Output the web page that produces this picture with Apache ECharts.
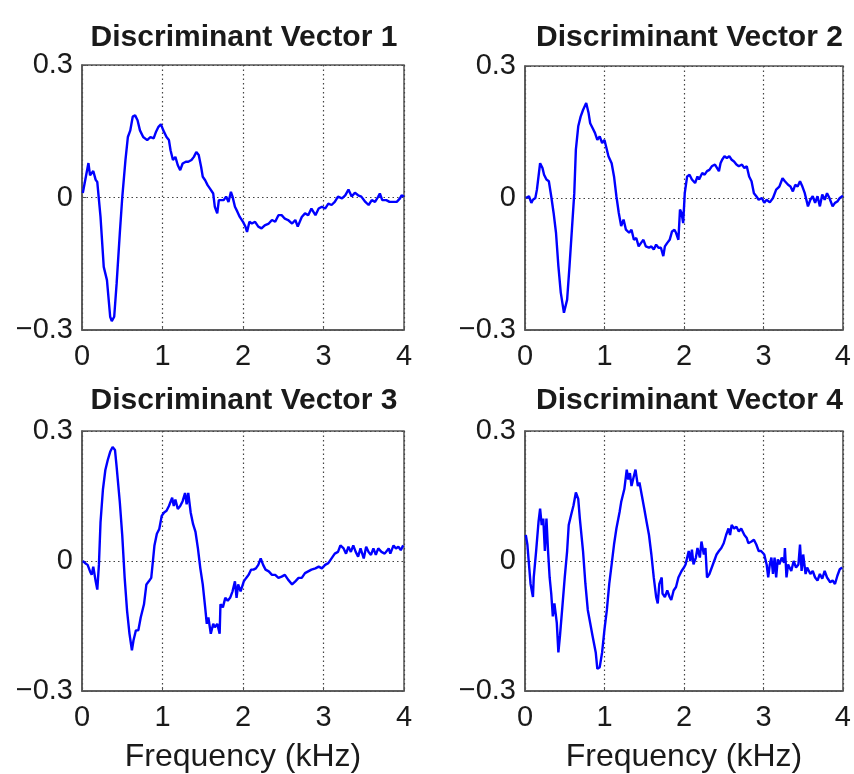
<!DOCTYPE html>
<html>
<head>
<meta charset="utf-8">
<script src="https://cdn.jsdelivr.net/npm/echarts@6/dist/echarts.min.js"></script>
<style>
  html, body {margin: 0; padding: 0; background: #fff;}
  #chart {width: 854px; height: 774px;}
</style>
</head>
<body>
<div id="chart"></div>
<script>
// frequency (kHz) and amplitude
var f1 = [0.01,0.08,0.10,0.14,0.17,0.19,0.23,0.27,0.31,0.35,0.37,0.40,0.43,0.47,0.50,0.54,0.57,0.60,0.63,0.66,0.69,0.72,0.76,0.81,0.85,0.89,0.92,0.95,0.98,1.01,1.05,1.08,1.10,1.13,1.16,1.19,1.22,1.25,1.29,1.32,1.36,1.39,1.42,1.45,1.48,1.50,1.53,1.56,1.59,1.63,1.65,1.68,1.70,1.72,1.76,1.79,1.82,1.85,1.87,1.90,1.93,1.96,2.00,2.03,2.05,2.08,2.11,2.15,2.19,2.23,2.27,2.32,2.36,2.40,2.44,2.48,2.52,2.56,2.61,2.65,2.68,2.70,2.73,2.77,2.81,2.85,2.90,2.94,2.98,3.02,3.06,3.10,3.14,3.18,3.23,3.27,3.31,3.35,3.39,3.43,3.47,3.52,3.56,3.60,3.64,3.68,3.70,3.73,3.78,3.82,3.87,3.91,3.95,3.97,4.00];
var v1 = [0.01,0.078,0.05,0.06,0.04,0.035,-0.044,-0.157,-0.187,-0.27,-0.28,-0.27,-0.195,-0.08,0,0.085,0.137,0.152,0.183,0.186,0.175,0.152,0.137,0.13,0.137,0.134,0.149,0.16,0.166,0.152,0.137,0.13,0.107,0.085,0.092,0.073,0.062,0.077,0.081,0.081,0.085,0.092,0.103,0.096,0.069,0.047,0.039,0.028,0.02,0.009,-0.021,-0.036,-0.006,-0.002,-0.006,0.002,-0.01,0.013,0.002,-0.021,-0.032,-0.044,-0.055,-0.066,-0.078,-0.055,-0.059,-0.055,-0.066,-0.07,-0.063,-0.059,-0.051,-0.055,-0.04,-0.04,-0.048,-0.051,-0.059,-0.051,-0.066,-0.07,-0.044,-0.036,-0.04,-0.025,-0.04,-0.025,-0.021,-0.025,-0.014,-0.017,-0.01,0.002,-0.002,0.005,0.018,0.002,0.011,0.005,0.002,-0.01,-0.017,-0.006,-0.01,0.002,0.009,-0.006,-0.006,-0.01,-0.01,-0.01,-0.002,0.005,0.002];

var f2 = [0.01,0.05,0.08,0.10,0.13,0.15,0.19,0.22,0.24,0.27,0.30,0.33,0.36,0.39,0.42,0.45,0.49,0.51,0.53,0.56,0.59,0.62,0.64,0.67,0.70,0.73,0.77,0.80,0.82,0.85,0.88,0.91,0.94,0.97,1.00,1.02,1.05,1.07,1.09,1.12,1.15,1.18,1.21,1.24,1.27,1.31,1.34,1.37,1.40,1.43,1.46,1.49,1.52,1.56,1.59,1.62,1.65,1.68,1.71,1.74,1.76,1.79,1.82,1.85,1.88,1.90,1.93,1.95,1.97,1.99,2.01,2.04,2.07,2.10,2.14,2.17,2.19,2.23,2.26,2.29,2.32,2.35,2.39,2.41,2.44,2.46,2.48,2.51,2.54,2.57,2.60,2.63,2.66,2.69,2.73,2.76,2.79,2.82,2.85,2.88,2.91,2.94,2.98,3.01,3.04,3.08,3.12,3.16,3.20,3.24,3.27,3.31,3.34,3.37,3.40,3.43,3.46,3.49,3.52,3.56,3.59,3.62,3.65,3.68,3.71,3.74,3.77,3.80,3.83,3.87,3.90,3.93,3.96,4.00];
var v2 = [0,0.004,-0.011,-0.004,0,0.019,0.079,0.068,0.053,0.042,0.038,0.004,-0.034,-0.079,-0.155,-0.215,-0.261,-0.265,-0.231,-0.155,-0.072,0.011,0.11,0.163,0.185,0.2,0.216,0.193,0.17,0.159,0.148,0.132,0.14,0.125,0.132,0.117,0.095,0.087,0.079,0.049,0.004,-0.034,-0.064,-0.049,-0.072,-0.079,-0.072,-0.095,-0.091,-0.11,-0.102,-0.095,-0.11,-0.113,-0.11,-0.117,-0.106,-0.113,-0.113,-0.132,-0.11,-0.102,-0.095,-0.076,-0.072,-0.079,-0.095,-0.026,-0.034,-0.057,0.011,0.049,0.053,0.042,0.034,0.049,0.042,0.057,0.053,0.061,0.064,0.072,0.076,0.079,0.061,0.079,0.087,0.095,0.091,0.095,0.087,0.083,0.076,0.072,0.076,0.068,0.072,0.049,0.038,0.011,0.004,-0.004,0,-0.011,-0.004,-0.01,0,0.019,0.026,0.045,0.038,0.03,0.026,0.015,0.03,0.026,0.038,0.026,0.011,-0.019,-0.004,0.004,-0.011,0.004,-0.019,0.008,-0.004,0.011,0,-0.019,-0.011,-0.008,0,0.005];

var f3 = [0.01,0.04,0.07,0.10,0.12,0.14,0.17,0.19,0.21,0.23,0.26,0.29,0.32,0.35,0.38,0.41,0.43,0.47,0.50,0.53,0.56,0.59,0.62,0.64,0.67,0.70,0.73,0.77,0.80,0.83,0.86,0.88,0.90,0.93,0.96,0.99,1.02,1.05,1.08,1.12,1.14,1.16,1.19,1.22,1.25,1.28,1.30,1.32,1.35,1.38,1.41,1.44,1.47,1.50,1.53,1.55,1.57,1.60,1.63,1.65,1.68,1.71,1.72,1.75,1.78,1.81,1.84,1.87,1.90,1.92,1.94,1.97,2.01,2.04,2.07,2.10,2.13,2.16,2.19,2.22,2.25,2.28,2.32,2.36,2.40,2.44,2.48,2.52,2.56,2.61,2.65,2.69,2.73,2.77,2.81,2.85,2.90,2.94,2.98,3.02,3.06,3.10,3.14,3.18,3.21,3.25,3.28,3.31,3.34,3.37,3.40,3.43,3.46,3.50,3.53,3.56,3.59,3.62,3.65,3.68,3.72,3.76,3.81,3.83,3.87,3.90,3.93,3.96,3.99];
var v3 = [0,-0.005,-0.009,-0.024,-0.032,-0.013,-0.047,-0.066,-0.009,0.089,0.165,0.21,0.233,0.252,0.263,0.256,0.218,0.135,0.059,-0.039,-0.115,-0.168,-0.206,-0.183,-0.16,-0.16,-0.13,-0.1,-0.054,-0.047,-0.039,-0.002,0.036,0.063,0.074,0.104,0.112,0.116,0.127,0.146,0.127,0.142,0.12,0.127,0.138,0.157,0.131,0.157,0.112,0.085,0.067,0.029,-0.017,-0.054,-0.107,-0.145,-0.13,-0.168,-0.145,-0.153,-0.145,-0.168,-0.1,-0.107,-0.085,-0.092,-0.085,-0.07,-0.047,-0.085,-0.054,-0.07,-0.047,-0.039,-0.032,-0.02,-0.02,-0.017,-0.009,0.006,-0.009,-0.02,-0.024,-0.032,-0.032,-0.039,-0.036,-0.032,-0.043,-0.054,-0.047,-0.039,-0.039,-0.028,-0.024,-0.02,-0.017,-0.013,-0.017,-0.009,-0.005,0.006,0.017,0.021,0.036,0.029,0.017,0.033,0.021,0.036,0.021,0.01,0.029,0.006,0.033,0.021,0.014,0.029,0.014,0.029,0.021,0.017,0.029,0.017,0.036,0.029,0.033,0.025,0.036];

var f4 = [0.01,0.03,0.05,0.07,0.10,0.11,0.14,0.17,0.19,0.21,0.23,0.25,0.27,0.29,0.31,0.33,0.35,0.37,0.40,0.42,0.44,0.47,0.50,0.53,0.55,0.58,0.61,0.64,0.67,0.69,0.73,0.76,0.79,0.82,0.85,0.89,0.91,0.94,0.97,1.00,1.03,1.06,1.09,1.12,1.15,1.19,1.21,1.25,1.28,1.30,1.32,1.34,1.37,1.39,1.42,1.44,1.47,1.50,1.53,1.56,1.59,1.62,1.65,1.67,1.69,1.72,1.73,1.76,1.79,1.82,1.84,1.87,1.90,1.93,1.97,2.00,2.02,2.06,2.08,2.10,2.12,2.15,2.17,2.20,2.22,2.25,2.27,2.29,2.32,2.35,2.38,2.41,2.44,2.47,2.50,2.53,2.56,2.58,2.60,2.63,2.66,2.69,2.72,2.76,2.79,2.81,2.85,2.88,2.91,2.94,2.97,3.01,3.04,3.06,3.08,3.10,3.12,3.14,3.16,3.18,3.20,3.23,3.26,3.27,3.29,3.31,3.35,3.38,3.41,3.44,3.46,3.48,3.50,3.53,3.55,3.59,3.62,3.65,3.68,3.71,3.74,3.77,3.80,3.84,3.87,3.90,3.93,3.96,3.99];
var v4 = [0.06,0.038,-0.008,-0.053,-0.083,-0.038,0.023,0.09,0.121,0.083,0.098,0.023,0.098,0.023,-0.038,-0.075,-0.128,-0.098,-0.143,-0.211,-0.173,-0.106,-0.038,0.023,0.083,0.106,0.128,0.158,0.143,0.098,0.023,-0.053,-0.113,-0.143,-0.173,-0.211,-0.249,-0.245,-0.211,-0.158,-0.113,-0.053,-0.008,0.038,0.075,0.113,0.136,0.166,0.211,0.188,0.203,0.173,0.196,0.211,0.173,0.181,0.151,0.121,0.09,0.06,0.015,-0.038,-0.083,-0.098,-0.053,-0.038,-0.075,-0.083,-0.068,-0.083,-0.09,-0.068,-0.06,-0.038,-0.023,-0.015,-0.008,0.023,0,0.026,-0.008,0.008,0.03,0.008,0.045,0.015,0.03,-0.038,-0.03,-0.015,0,0.015,0.023,0.03,0.041,0.06,0.075,0.06,0.083,0.075,0.079,0.068,0.075,0.06,0.053,0.041,0.045,0.049,0.038,0.023,0.023,0.015,-0.008,-0.038,-0.008,0.008,-0.03,0.008,-0.038,0.004,-0.008,0.008,-0.004,0.03,-0.038,-0.008,-0.023,0,-0.015,-0.008,0.038,-0.023,0.015,-0.03,-0.015,-0.03,-0.023,-0.038,-0.045,-0.03,-0.041,-0.023,-0.038,-0.049,-0.045,-0.053,-0.034,-0.019,-0.015];

var titles = ['Discriminant Vector 1', 'Discriminant Vector 2', 'Discriminant Vector 3', 'Discriminant Vector 4'];
var xTicks = [0, 1, 2, 3, 4];
var yTicks = [-0.3, 0, 0.3];
var xName = 'Frequency (kHz)';

var FONT = "'Liberation Sans', Arial, Helvetica, sans-serif";
var grids = [
    {left: 82, top: 65, width: 322, height: 265},
    {left: 525, top: 66, width: 321, height: 264},
    {left: 82, top: 431, width: 322, height: 264},
    {left: 525, top: 431, width: 321, height: 265}
];

function zip(xs, ys) {
    return xs.map(function (x, i) { return [x, ys[i]]; });
}

var freqs = [f1, f2, f3, f4];
var vecs = [v1, v2, v3, v4];
var dotted = {show: true, lineStyle: {color: '#444', type: [1.5, 3], width: 1.2}};

var option = {
    animation: false,
    backgroundColor: '#fff',
    title: grids.map(function (g, i) {
        return {
            text: titles[i],
            left: g.left + g.width / 2 - (i % 2 ? 1 : 4),
            top: i < 2 ? 18 : 381,
            textAlign: 'center',
            textStyle: {fontFamily: FONT, fontSize: 30, fontWeight: 'bold', color: '#1a1a1a'}
        };
    }),
    grid: grids.map(function (g) {
        return {left: g.left, top: g.top, width: g.width, height: g.height,
            show: true, borderColor: '#555', borderWidth: 1.5, backgroundColor: '#fff'};
    }),
    xAxis: grids.map(function (g, i) {
        return {
            type: 'value', gridIndex: i,
            min: xTicks[0], max: xTicks[xTicks.length - 1], interval: 1,
            name: i >= 2 ? xName : '',
            nameLocation: 'middle', nameGap: 50,
            nameTextStyle: {fontFamily: FONT, fontSize: 32, color: '#1a1a1a'},
            axisLine: {show: true, onZero: false, lineStyle: {color: '#555', width: 1.5}},
            axisTick: {show: true, inside: true, length: 4, lineStyle: {color: '#555'}},
            axisLabel: {margin: 12, fontFamily: FONT, fontSize: 29, color: '#1a1a1a'},
            splitLine: dotted
        };
    }),
    yAxis: grids.map(function (g, i) {
        return {
            type: 'value', gridIndex: i,
            min: yTicks[0], max: yTicks[yTicks.length - 1], interval: 0.3,
            axisLine: {show: true, onZero: false, lineStyle: {color: '#555', width: 1.5}},
            axisTick: {show: true, inside: true, length: 4, lineStyle: {color: '#555'}},
            axisLabel: {
                margin: 9, fontFamily: FONT, fontSize: 29, color: '#1a1a1a',
                formatter: function (v) {
                    if (Math.abs(v) < 1e-9) return '0';
                    return v < 0 ? '\u2212' + Math.abs(v).toFixed(1) : v.toFixed(1);
                }
            },
            splitLine: dotted
        };
    }),
    series: vecs.map(function (v, i) {
        return {
            type: 'line', xAxisIndex: i, yAxisIndex: i,
            data: zip(freqs[i], v),
            showSymbol: false, symbol: 'none',
            lineStyle: {color: '#0000ff', width: 2.4},
            z: 3
        };
    })
};

var chart = echarts.init(document.getElementById('chart'), null, {renderer: 'canvas'});
chart.setOption(option);
</script>
</body>
</html>
